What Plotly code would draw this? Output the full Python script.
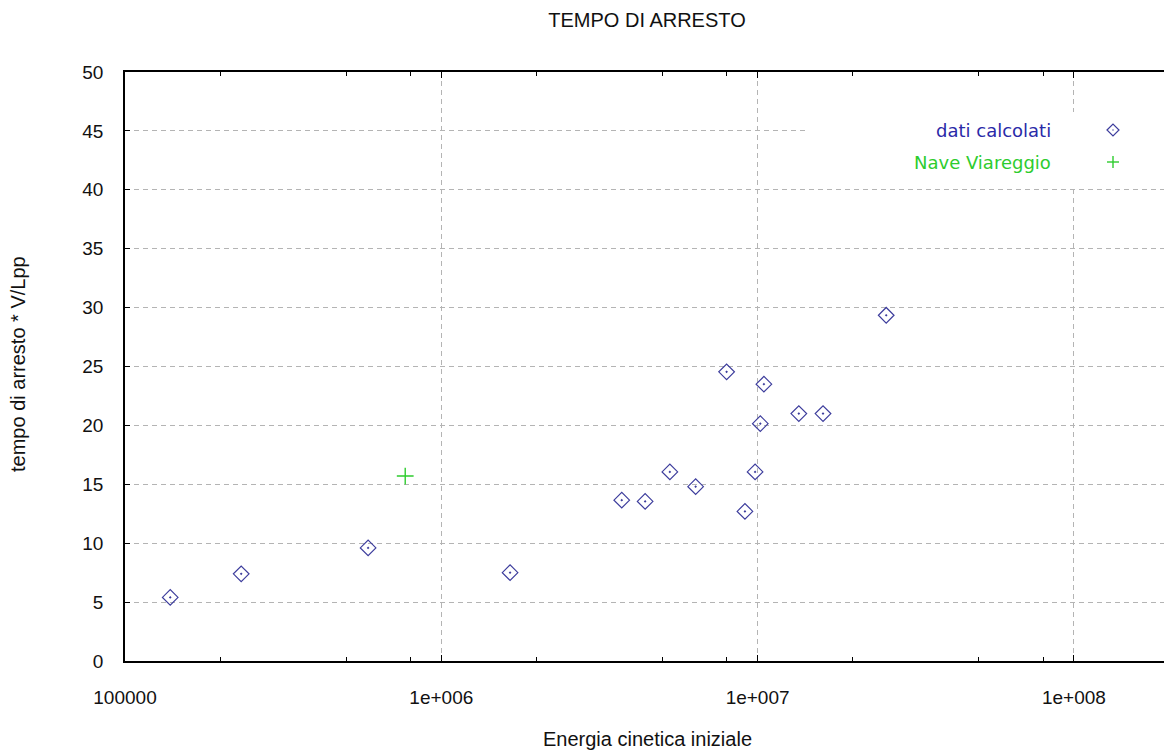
import plotly.graph_objects as go

# Energia cinetica iniziale vs tempo di arresto adimensionale
energia_calc = [1.39e5, 2.33e5, 5.87e5, 1.65e6, 3.72e6, 4.41e6, 5.28e6, 6.37e6,
                7.98e6, 9.12e6, 9.82e6, 1.02e7, 1.047e7, 1.35e7, 1.61e7, 2.55e7]
tempo_calc = [5.4, 7.4, 9.6, 7.5, 13.65, 13.55, 16.05, 14.8,
              24.55, 12.7, 16.05, 20.15, 23.5, 21.0, 21.0, 29.35]

energia_viareggio = [7.69e5]
tempo_viareggio = [15.7]

x_tick_vals = [1e5, 1e6, 1e7, 1e8]
x_tick_text = ["100000", "1e+006", "1e+007", "1e+008"]
x_minor_vals = [m * 10 ** e for e in range(5, 9) for m in (2, 5, 8)]
y_tick_vals = list(range(0, 55, 5))

BLUE = "#3c3c9c"
GREEN = "#2ecc2e"
GRID = "#b4b4b4"
FONT = "Liberation Sans, Arial, sans-serif"

fig = go.Figure()
fig.add_trace(go.Scatter(
    x=energia_calc, y=tempo_calc, mode="markers", name="dati calcolati",
    marker=dict(symbol="diamond-open-dot", size=12, color=BLUE, line=dict(width=1.2, color=BLUE)),
))
fig.add_trace(go.Scatter(
    x=energia_viareggio, y=tempo_viareggio, mode="markers", name="Nave Viareggio",
    marker=dict(symbol="cross-thin", size=12, color=GREEN, line=dict(width=1.4, color=GREEN)),
))

fig.update_layout(
    width=1164, height=752,
    margin=dict(l=125, r=0, t=72, b=91),
    paper_bgcolor="white", plot_bgcolor="white",
    showlegend=False,
    font=dict(family=FONT, size=19, color="#111111"),
    title=dict(text="TEMPO DI ARRESTO", x=647 / 1164, xanchor="center", y=1 - 20 / 752,
               yanchor="middle", font=dict(family=FONT, size=20, color="#111111")),
)

fig.update_xaxes(
    type="log", range=[5, 5 + 1039 / 316.3],
    tickmode="array", tickvals=x_tick_vals, ticktext=x_tick_text,
    ticks="inside", ticklen=6, tickcolor="black", tickwidth=1,
    minor=dict(tickvals=x_minor_vals, ticks="inside", ticklen=4, tickcolor="black",
               showgrid=False),
    showline=True, linecolor="black", linewidth=1.5, mirror="ticks",
    showgrid=True, gridcolor=GRID, griddash="5px,4px", gridwidth=1,
    zeroline=False, ticklabelstandoff=18,
)
fig.update_yaxes(
    range=[0, 50], tickmode="array", tickvals=y_tick_vals,
    ticks="inside", ticklen=5, tickcolor="black",
    showline=True, linecolor="black", linewidth=1.5,
    showgrid=True, gridcolor=GRID, griddash="5px,4px", gridwidth=1,
    zeroline=False, ticklabelstandoff=16,
)

# axis titles
fig.add_annotation(text="Energia cinetica iniziale", xref="paper", yref="paper",
                   x=(647 - 125) / 1039, y=0, yshift=-78, showarrow=False,
                   font=dict(family=FONT, size=20), xanchor="center", yanchor="middle")
fig.add_annotation(text="tempo di arresto * V/Lpp", xref="paper", yref="paper",
                   x=0, xshift=-107, y=(661 - 364) / 589, textangle=-90, showarrow=False,
                   font=dict(family=FONT, size=20), xanchor="center", yanchor="middle")

# legend box drawn on the plot area
def px_x(p):
    return (p - 125) / 1039

def px_y(p):
    return (661 - p) / 589

fig.add_shape(type="rect", xref="paper", yref="paper", layer="above",
              x0=px_x(806), x1=1.0, y0=px_y(186), y1=px_y(112),
              fillcolor="white", line=dict(width=0))
LEG_FONT = "DejaVu Sans, Liberation Sans, sans-serif"
fig.add_annotation(text="dati calcolati", xref="paper", yref="paper",
                   x=px_x(1053), y=px_y(130), xanchor="right", yanchor="middle",
                   showarrow=False, font=dict(family=LEG_FONT, size=18, color="#2a2aa8"))
fig.add_annotation(text="Nave Viareggio", xref="paper", yref="paper",
                   x=px_x(1053), y=px_y(162), xanchor="right", yanchor="middle",
                   showarrow=False, font=dict(family=LEG_FONT, size=18, color=GREEN))

# legend symbols
cx, cy, r = px_x(1113), px_y(130), 6
fig.add_shape(type="path", xref="paper", yref="paper", layer="above",
              path=f"M {px_x(1113 - r)} {cy} L {cx} {px_y(130 - r)} L {px_x(1113 + r)} {cy} "
                   f"L {cx} {px_y(130 + r)} Z",
              line=dict(color=BLUE, width=1.2))
fig.add_shape(type="circle", xref="paper", yref="paper", layer="above",
              x0=px_x(1112.3), x1=px_x(1113.7), y0=px_y(130.7), y1=px_y(129.3),
              fillcolor=BLUE, line=dict(width=0))
fig.add_shape(type="line", xref="paper", yref="paper", layer="above",
              x0=px_x(1107), x1=px_x(1119), y0=px_y(162), y1=px_y(162),
              line=dict(color=GREEN, width=1.4))
fig.add_shape(type="line", xref="paper", yref="paper", layer="above",
              x0=px_x(1113), x1=px_x(1113), y0=px_y(156), y1=px_y(168),
              line=dict(color=GREEN, width=1.4))

fig.write_html("out.html")
